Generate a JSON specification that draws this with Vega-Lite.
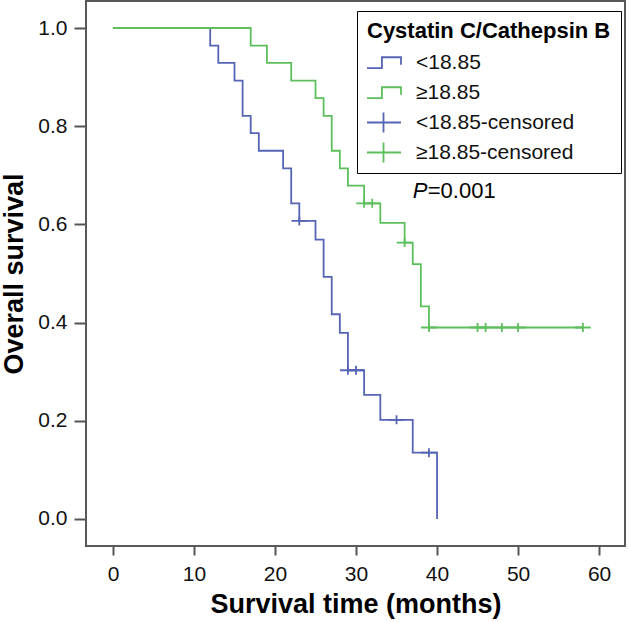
{
  "$schema": "https://vega.github.io/schema/vega-lite/v6.json",
  "width": 539,
  "height": 545,
  "autosize": {"type": "none"},
  "padding": {"left": 86, "top": 1, "right": 4, "bottom": 76},
  "background": "white",
  "config": {
    "font": "Liberation Sans",
    "view": {"stroke": "#595959", "strokeWidth": 2},
    "axis": {
      "domain": false,
      "grid": false,
      "tickColor": "#555555",
      "tickWidth": 2,
      "labelFont": "Liberation Sans",
      "labelFontSize": 21,
      "labelColor": "#111111",
      "titleFont": "Liberation Sans",
      "titleFontSize": 27,
      "titleFontWeight": "bold",
      "titleColor": "#000000"
    }
  },
  "datasets": {
    "curves": [
      {"entry": "<18.85", "time": 0, "surv": 1.0},
      {"entry": "<18.85", "time": 12, "surv": 0.964},
      {"entry": "<18.85", "time": 13, "surv": 0.929},
      {"entry": "<18.85", "time": 15, "surv": 0.893},
      {"entry": "<18.85", "time": 16, "surv": 0.821},
      {"entry": "<18.85", "time": 17, "surv": 0.786},
      {"entry": "<18.85", "time": 18, "surv": 0.750},
      {"entry": "<18.85", "time": 21, "surv": 0.714},
      {"entry": "<18.85", "time": 22, "surv": 0.643},
      {"entry": "<18.85", "time": 23, "surv": 0.607},
      {"entry": "<18.85", "time": 25, "surv": 0.569},
      {"entry": "<18.85", "time": 26, "surv": 0.493},
      {"entry": "<18.85", "time": 27, "surv": 0.417},
      {"entry": "<18.85", "time": 28, "surv": 0.379},
      {"entry": "<18.85", "time": 29, "surv": 0.303},
      {"entry": "<18.85", "time": 31, "surv": 0.253},
      {"entry": "<18.85", "time": 33, "surv": 0.202},
      {"entry": "<18.85", "time": 37, "surv": 0.135},
      {"entry": "<18.85", "time": 40, "surv": 0.0},
      {"entry": "≥18.85", "time": 0, "surv": 1.0},
      {"entry": "≥18.85", "time": 17, "surv": 0.964},
      {"entry": "≥18.85", "time": 19, "surv": 0.929},
      {"entry": "≥18.85", "time": 22, "surv": 0.893},
      {"entry": "≥18.85", "time": 25, "surv": 0.857},
      {"entry": "≥18.85", "time": 26, "surv": 0.821},
      {"entry": "≥18.85", "time": 27, "surv": 0.750},
      {"entry": "≥18.85", "time": 28, "surv": 0.714},
      {"entry": "≥18.85", "time": 29, "surv": 0.679},
      {"entry": "≥18.85", "time": 31, "surv": 0.643},
      {"entry": "≥18.85", "time": 33, "surv": 0.603},
      {"entry": "≥18.85", "time": 36, "surv": 0.563},
      {"entry": "≥18.85", "time": 37, "surv": 0.519},
      {"entry": "≥18.85", "time": 38, "surv": 0.433},
      {"entry": "≥18.85", "time": 39, "surv": 0.390},
      {"entry": "≥18.85", "time": 58, "surv": 0.390}
    ],
    "censored": [
      {"entry": "<18.85-censored", "time": 23, "surv": 0.607},
      {"entry": "<18.85-censored", "time": 29, "surv": 0.303},
      {"entry": "<18.85-censored", "time": 30, "surv": 0.303},
      {"entry": "<18.85-censored", "time": 35, "surv": 0.202},
      {"entry": "<18.85-censored", "time": 39, "surv": 0.135},
      {"entry": "≥18.85-censored", "time": 31, "surv": 0.643},
      {"entry": "≥18.85-censored", "time": 32, "surv": 0.643},
      {"entry": "≥18.85-censored", "time": 36, "surv": 0.563},
      {"entry": "≥18.85-censored", "time": 39, "surv": 0.390},
      {"entry": "≥18.85-censored", "time": 45, "surv": 0.390},
      {"entry": "≥18.85-censored", "time": 46, "surv": 0.390},
      {"entry": "≥18.85-censored", "time": 48, "surv": 0.390},
      {"entry": "≥18.85-censored", "time": 50, "surv": 0.390},
      {"entry": "≥18.85-censored", "time": 58, "surv": 0.390}
    ],
    "annotation": [
      {"label": "P", "rest": "=0.001"}
    ]
  },
  "layer": [
    {
      "data": {"name": "curves"},
      "mark": {"type": "line", "interpolate": "step-after", "strokeWidth": 1.8},
      "encoding": {
        "x": {
          "field": "time",
          "type": "quantitative",
          "scale": {"domain": [-3.33, 63.2], "nice": false, "zero": false},
          "axis": {
            "values": [0, 10, 20, 30, 40, 50, 60],
            "tickSize": 9,
            "labelPadding": 8,
            "title": "Survival time (months)",
            "titlePadding": 7
          }
        },
        "y": {
          "field": "surv",
          "type": "quantitative",
          "scale": {"domain": [-0.055, 1.055], "nice": false, "zero": false},
          "axis": {
            "values": [0, 0.2, 0.4, 0.6, 0.8, 1.0],
            "format": ".1f",
            "tickSize": 12,
            "labelPadding": 7,
            "title": "Overall survival",
            "titlePadding": 9
          }
        },
        "color": {
          "field": "entry",
          "type": "nominal",
          "scale": {
            "domain": ["<18.85", "≥18.85", "<18.85-censored", "≥18.85-censored"],
            "range": ["#5564b4", "#5cbf5c", "#5564b4", "#5cbf5c"]
          },
          "legend": {
            "title": "Cystatin C/Cathepsin B",
            "orient": "none",
            "legendX": 271,
            "legendY": 10,
            "padding": 10,
            "strokeColor": "#000000",
            "fillColor": "#ffffff",
            "titleFontSize": 22,
            "titleFontWeight": "bold",
            "titleColor": "#000000",
            "titleLimit": 500,
            "titlePadding": 9,
            "labelFontSize": 21,
            "labelLimit": 400,
            "labelColor": "#111111",
            "labelOffset": 22,
            "rowPadding": 8,
            "clipHeight": 21,
            "symbolSize": 306,
            "symbolOffset": 6,
            "symbolStrokeWidth": 1.8,
            "symbolFillColor": "transparent"
          }
        }
      }
    },
    {
      "data": {"name": "censored"},
      "mark": {"type": "point", "filled": false, "strokeWidth": 1.8, "size": 62, "opacity": 1},
      "encoding": {
        "x": {"field": "time", "type": "quantitative"},
        "y": {"field": "surv", "type": "quantitative"},
        "color": {"field": "entry", "type": "nominal"},
        "shape": {
          "field": "entry",
          "type": "nominal",
          "scale": {
            "domain": ["<18.85", "≥18.85", "<18.85-censored", "≥18.85-censored"],
            "range": ["M-2,0.64H-0.18V-0.6H2V0.26", "M-2,0.64H-0.18V-0.6H2V0.26", "M-2,0H2M0,-1.14V1.14", "M-2,0H2M0,-1.14V1.14"]
          },
          "legend": {"title": "Cystatin C/Cathepsin B"}
        }
      }
    },
    {
      "data": {"name": "annotation"},
      "mark": {"type": "text", "align": "left", "baseline": "middle", "fontSize": 22, "fontStyle": "italic", "color": "#000000"},
      "encoding": {
        "x": {"datum": 37.0, "type": "quantitative"},
        "y": {"datum": 0.668, "type": "quantitative"},
        "text": {"field": "label", "type": "nominal"}
      }
    },
    {
      "data": {"name": "annotation"},
      "mark": {"type": "text", "align": "left", "baseline": "middle", "fontSize": 22, "dx": 15, "color": "#000000"},
      "encoding": {
        "x": {"datum": 37.0, "type": "quantitative"},
        "y": {"datum": 0.668, "type": "quantitative"},
        "text": {"field": "rest", "type": "nominal"}
      }
    }
  ]
}
